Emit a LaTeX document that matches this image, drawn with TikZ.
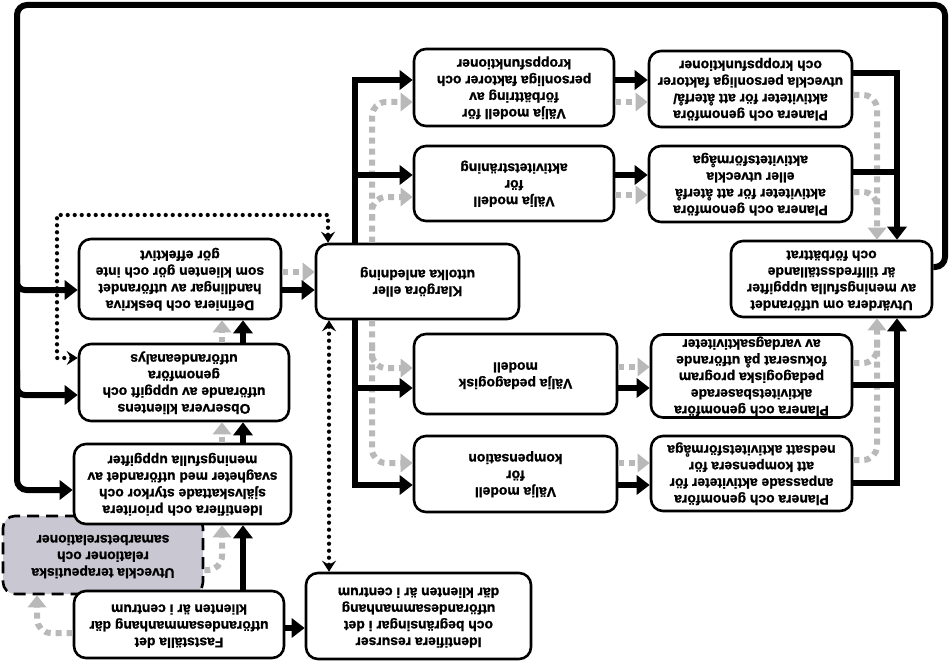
\documentclass[tikz,border=0pt]{standalone}
\usepackage{fontspec}
\setmainfont{Liberation Sans}[BoldFeatures={FakeBold=1.3}]
\usetikzlibrary{arrows.meta,calc}
\newcommand{\flipt}[1]{\rotatebox{180}{\begin{tabular}{@{}c@{}}#1\end{tabular}}}
\definecolor{grayarrow}{RGB}{185,185,185}
\definecolor{boxgray}{RGB}{201,199,209}
\tikzset{
  box/.style={draw, line width=2.6pt, rounded corners=12pt, fill=white, inner sep=0pt,
    font=\bfseries\fontsize{13.9}{16.6}\selectfont},
  sz/.style 2 args={minimum width=#1pt, minimum height=#2pt},
  dashbox/.style={box, fill=boxgray, dash pattern=on 12pt off 7pt},
  blk/.style={line width=6pt, line join=miter, -{Triangle[width=19pt,length=13pt]}},
  blkl/.style={line width=6pt},
  gry/.style={draw=grayarrow, line width=6pt, dash pattern=on 6pt off 5pt,
    -{Triangle[width=18pt,length=12pt]}},
  gryl/.style={draw=grayarrow, line width=6pt, dash pattern=on 6pt off 5pt},
  dot/.style={line width=4.2pt, line cap=round, dash pattern=on 0pt off 7pt,
    {Stealth[width=14pt,length=11pt,inset=4pt]}-{Stealth[width=14pt,length=11pt,inset=4pt]}}
}
\begin{document}
\begin{tikzpicture}[x=1pt,y=-1pt]
\path[use as bounding box] (0,0) rectangle (949,663);

% nodes
\node[dashbox, sz={200}{78}] (b3) at (103,555) {\flipt{Utveckla terapeutiska\\relationer och\\samarbetsrelationer}};
\node[box, sz={210}{67}] (b1) at (179,624.5) {\flipt{Fastställa det\\utförandesammanhang där\\klienten är i centrum}};
\node[box, sz={225}{86}] (b2) at (418.5,616) {\flipt{Identifiera resurser\\och begränsingar i det\\utförandesammanhang\\där klienten är i centrum}};
\node[box, sz={217}{80}] (b4) at (182.5,484) {\flipt{Identifiera och prioritera\\självskattade styrkor och\\svagheter med utförandet av\\meningsfulla uppgifter}};
\node[box, sz={210}{77}] (b5) at (184,382.5) {\flipt{Observera klientens\\utförande av uppgift och\\genomföra\\utförandeanalys}};
\node[box, sz={202}{80}] (b6) at (180,279) {\flipt{Definiera och beskriva\\handlingar av utförandet\\som klienten gör och inte\\gör effektivt}};
\node[box, sz={203}{75}] (b7) at (417.5,281.5) {\flipt{Klargöra eller\\uttolka anledning}};
\node[box, sz={200}{77}] (b8) at (514,87.5) {\flipt{Välja modell för\\förbättring av\\personliga faktorer och\\kroppsfunktioner}};
\node[box, sz={200}{75}] (b9) at (514,183.5) {\flipt{Välja modell\\för\\aktivitetsträning}};
\node[box, sz={203}{76}] (b10) at (750.5,89) {\flipt{Planera och genomföra\\aktiviteter för att återfå/\\utveckla personliga faktorer\\och kroppsfunktioner}};
\node[box, sz={203}{76}] (b11) at (750.5,184) {\flipt{Planera och genomföra\\aktiviteter för att återfå\\eller utveckla\\aktivitetsförmåga}};
\node[box, sz={201}{76}] (b12) at (831.5,279) {\flipt{Utvärdera om utförandet\\av meningsfulla uppgifter\\är tillfredsställande\\och förbättrat}};
\node[box, sz={201}{80}] (b13) at (751.5,376) {\flipt{Planera och genomföra\\aktivitetsbaserade\\pedagogiska program\\fokuserat på utförande\\av vardagsaktiviteter}};
\node[box, sz={201}{75}] (b14) at (751.5,473.5) {\flipt{Planera och genomföra\\anpassade aktiviteter för\\att kompensera för\\nedsatt aktivitetsförmåga}};
\node[box, sz={203}{80}] (b15) at (515.5,374) {\flipt{Välja pedagogisk\\modell}};
\node[box, sz={203}{76}] (b16) at (515.5,474) {\flipt{Välja modell\\för\\kompensation}};

% big feedback loop
\draw[blk, rounded corners=10pt] ($(b12.east)+(0,-12)$) -- (945,267) -- (945,5) -- (17,5) -- (17,490) -- (b4.west |- 0,490);
\draw[blk, rounded corners=8pt] (17,265) -- (17,290) -- (b6.west |- 0,290);
\draw[blk, rounded corners=8pt] (17,370) -- (17,395) -- (b5.west |- 0,395);

% gray flow
\draw[gry, rounded corners=14pt] (b1.west |- 0,633) -- (37,633) -- (b3.south -| 37,0);
\draw[gry, rounded corners=14pt] (b3.east |- 0,570) -- (222,570) -- (b4.south -| 222,0);
\draw[gry] (b4.north -| 222,0) -- (b5.south -| 222,0);
\draw[gry] (b5.north -| 222,0) -- (b6.south -| 222,0);
\draw[gry] (b6.east |- 0,272) -- (b7.west |- 0,272);
\draw[gry, rounded corners=14pt] (b7.north -| 372,0) -- (372,102) -- (b8.west |- 0,102);
\draw[gry, rounded corners=14pt] (372,220) -- (372,197) -- (b9.west |- 0,197);
\draw[gry, rounded corners=14pt] (b7.south -| 372,0) -- (372,463) -- (b16.west |- 0,463);
\draw[gry, rounded corners=14pt] (372,345) -- (372,368) -- (b15.west |- 0,368);
\draw[gry] (b8.east |- 0,102) -- (b10.west |- 0,102);
\draw[gry] (b9.east |- 0,195) -- (b11.west |- 0,195);
\draw[gry] (b15.east |- 0,367) -- (b13.west |- 0,367);
\draw[gry] (b16.east |- 0,463) -- (b14.west |- 0,463);
\draw[gry, rounded corners=14pt] (b10.east |- 0,95) -- (877,95) -- (b12.north -| 877,0);
\draw[gryl, rounded corners=14pt] (b11.east |- 0,192) -- (877,192) -- (877,215);
\draw[gry, rounded corners=14pt] (b14.east |- 0,460) -- (877,460) -- (b12.south -| 877,0);
\draw[gryl, rounded corners=14pt] (b13.east |- 0,363) -- (877,363) -- (877,340);

% black flow
\draw[blk] (b1.north -| 243,0) -- (b4.south -| 243,0);
\draw[blk] (b4.north -| 243,0) -- (b5.south -| 243,0);
\draw[blk] (b5.north -| 243,0) -- (b6.south -| 243,0);
\draw[blk] (b6.east |- 0,290) -- (b7.west |- 0,290);
\draw[blk] (b1.east |- 0,628) -- (b2.west |- 0,628);
\draw[blk] (b7.north -| 355,0) -- (355,80) -- (b8.west |- 0,80);
\draw[blk] (355,175) -- (b9.west |- 0,175);
\draw[blk] (b7.south -| 355,0) -- (355,485) -- (b16.west |- 0,485);
\draw[blk] (355,388) -- (b15.west |- 0,388);
\draw[blk] (b8.east |- 0,80) -- (b10.west |- 0,80);
\draw[blk] (b9.east |- 0,175) -- (b11.west |- 0,175);
\draw[blk] (b15.east |- 0,388) -- (b13.west |- 0,388);
\draw[blk] (b16.east |- 0,485) -- (b14.west |- 0,485);
\draw[blk] (b10.east |- 0,73) -- (897,73) -- (b12.north -| 897,0);
\draw[blkl] (b11.east |- 0,172) -- (900,172);
\draw[blk] (b14.east |- 0,483) -- (897,483) -- (b12.south -| 897,0);
\draw[blkl] (b13.east |- 0,385) -- (900,385);

% dotted links
\draw[dot] (b5.west |- 0,358) -- (57,358) -- (57,215) -- (328,215) -- (b7.north -| 328,0);
\draw[dot] (b7.south -| 329,0) -- (b2.north -| 329,0);
\end{tikzpicture}
\end{document}
